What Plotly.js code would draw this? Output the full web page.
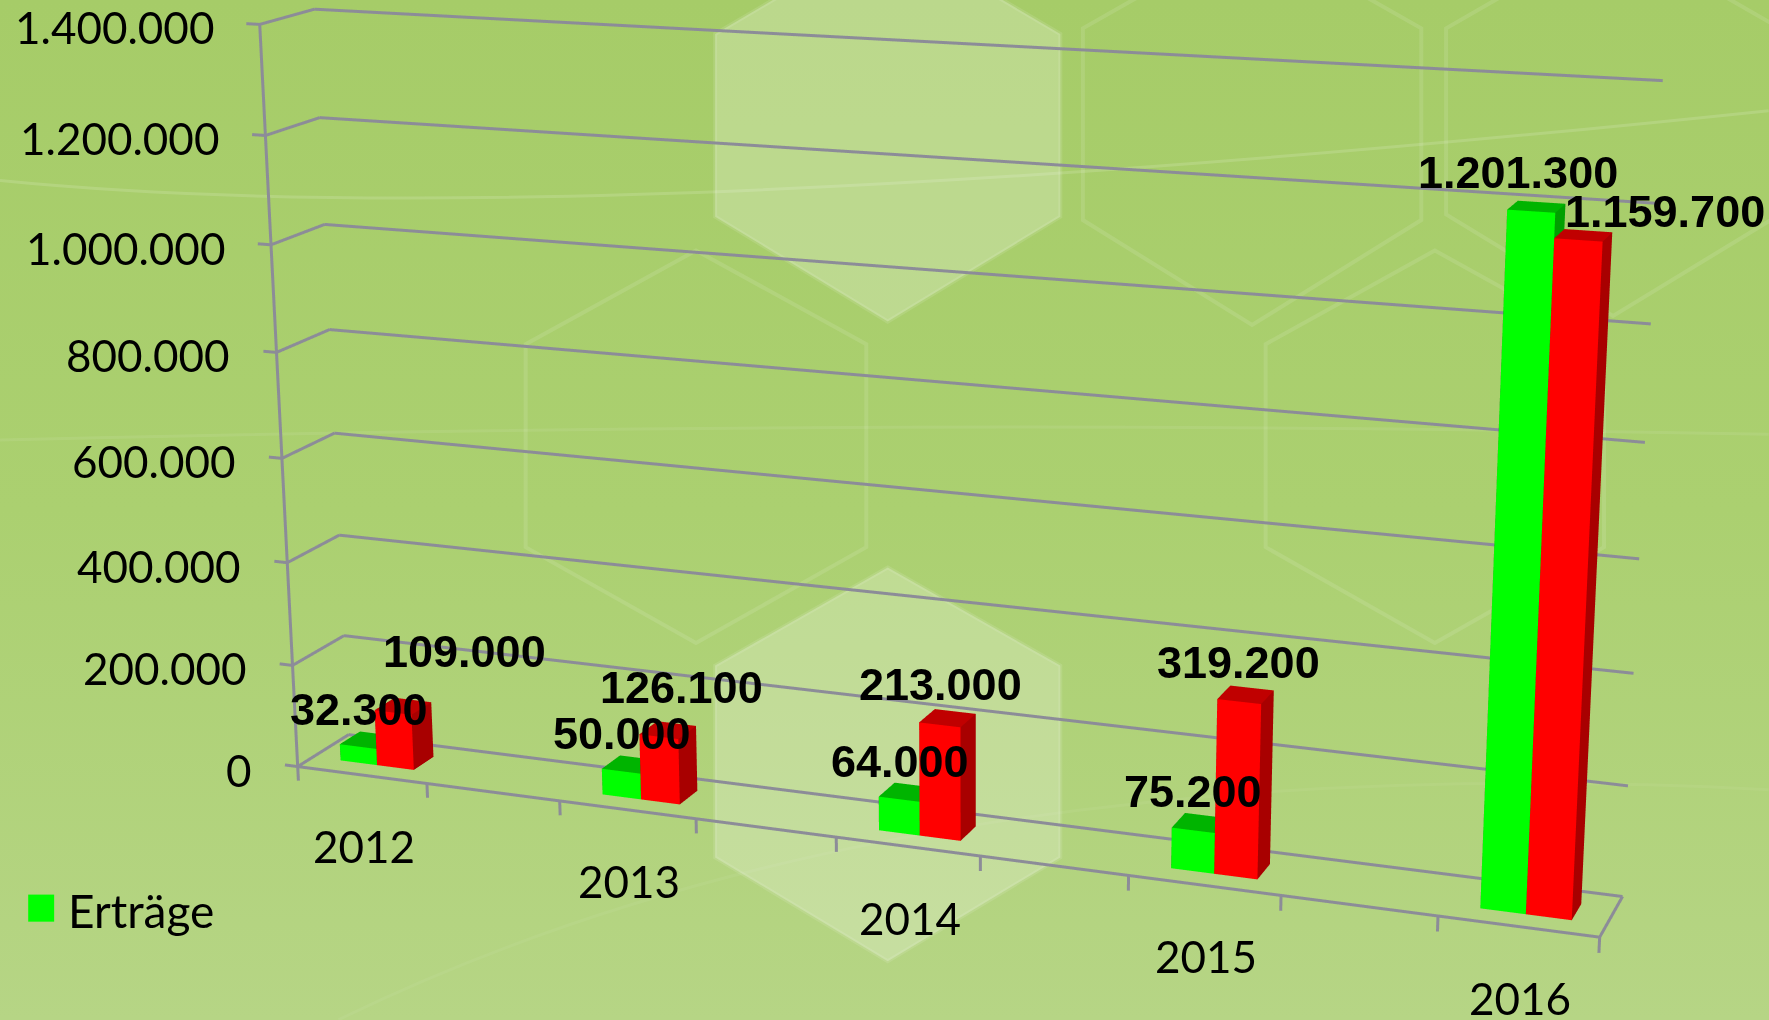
<!DOCTYPE html>
<html><head><meta charset="utf-8">
<script src="https://cdn.plot.ly/plotly-3.0.1.min.js"></script>
<style>html,body{margin:0;width:1769px;height:1020px;overflow:hidden;background:linear-gradient(180deg,#a6cc68 0%,#abd070 50%,#b6d585 100%)}#g{position:absolute;left:0;top:-1067.1px}</style>
</head><body><div id="g"></div>
<script>
const categories=['2012','2013','2014','2015','2016'];
const ertraege=[32300,50000,64000,75200,1201300];
const aufwand=[109000,126100,213000,319200,1159700];
const zTicks=[0,200000,400000,600000,800000,1000000,1200000,1400000];
const H=3211,top0=-1067.1;
const xr=[-0.18,9.09],yr=[-0.05,1.05],zr=[-50000,1420000];
const fmt=v=>String(v).replace(/\B(?=(\d{3})+$)/g,'.');
function bars(vals,x0,x1,name,colors){const X=[],Y=[],Z=[],I=[],J=[],K=[],FC=[];const y0=.3,y1=.7;
 vals.forEach((v,n)=>{const b=X.length,a=2*n+x0,c=2*n+x1;[[a,y0,0],[c,y0,0],[c,y1,0],[a,y1,0],[a,y0,v],[c,y0,v],[c,y1,v],[a,y1,v]].forEach(q=>{X.push(q[0]);Y.push(q[1]);Z.push(q[2])});
 [[0,1,5,0],[0,5,4,0],[4,5,6,1],[4,6,7,1],[1,2,6,2],[1,6,5,2],[3,7,6,2],[3,6,2,2],[0,4,7,2],[0,7,3,2]].forEach(f=>{I.push(b+f[0]);J.push(b+f[1]);K.push(b+f[2]);FC.push(colors[f[3]])})});
 return {type:'mesh3d',x:X,y:Y,z:Z,i:I,j:J,k:K,facecolor:FC,flatshading:true,lighting:{ambient:1,diffuse:0,specular:0,roughness:1,fresnel:0},showlegend:false,showscale:false,name:name,hoverinfo:'skip'};}
const gx=[],gy=[],gz=[];const seg=(a,b)=>{gx.push(a[0],b[0],null);gy.push(a[1],b[1],null);gz.push(a[2],b[2],null)};
zTicks.forEach(v=>{seg([-.1,0,v],[0,0,v]);seg([0,0,v],[0,1,v]);seg([0,1,v],[9,1,v])});
seg([0,0,0],[0,0,1400000]);seg([0,0,0],[9,0,0]);seg([9,0,0],[9,1,0]);
for(let i=0;i<=9;i++)seg([i,0,0],[i,0,-28000]);
const grid={type:'scatter3d',mode:'lines',x:gx,y:gy,z:gz,line:{color:'#8c8c98',width:6},showlegend:false,hoverinfo:'skip'};
const legendTrace={type:'scatter3d',mode:'markers',x:[.35],y:[.5],z:[1000],name:'Erträge',marker:{color:'#00ff00',size:4,symbol:'square'},showlegend:true,hoverinfo:'skip'};
const tickFont={family:'Lato',size:44,color:'#000'},valFont={family:'Liberation Sans',size:45,color:'#000'};
const ann=[];
zTicks.forEach(v=>ann.push({x:0,y:0,z:v,text:fmt(v),showarrow:false,xanchor:'right',yanchor:'middle',xshift:-44,yshift:-3,font:tickFont}));
categories.forEach((c,n)=>ann.push({x:2*n+.5,y:0,z:0,text:c,showarrow:false,xanchor:'center',yanchor:'middle',xshift:2,yshift:-71,font:tickFont}));
const offG=[[-8,31],[-7,31],[-6,31],[-6,31],[-17,34]],offR=[[61,55],[13,43],[-8,34],[-8,32],[80,24]];
ertraege.forEach((v,n)=>ann.push({x:2*n+.35,y:.5,z:v,text:'<b>'+fmt(v)+'</b>',showarrow:false,yanchor:'middle',xshift:offG[n][0],yshift:offG[n][1],font:valFont}));
aufwand.forEach((v,n)=>ann.push({x:2*n+.65,y:.5,z:v,text:'<b>'+fmt(v)+'</b>',showarrow:false,yanchor:'middle',xshift:offR[n][0],yshift:offR[n][1],font:valFont}));
const S=1.128;const P=(x,y)=>(x*S/1769).toFixed(5)+','+(1-(y*S-top0)/H).toFixed(5);
const poly=(pts,fill,lw)=>({type:'path',xref:'paper',yref:'paper',layer:'below',path:'M'+pts.map(q=>P(q[0],q[1])).join('L')+'Z',fillcolor:fill,line:{color:'rgba(255,255,255,.11)',width:lw}});
const hex=(cx,t,hw,a,b,bot,fill)=>poly([[cx,t],[cx+hw,a],[cx+hw,b],[cx,bot],[cx-hw,b],[cx-hw,a]],fill,4);
const shapes=[hex(787,-60,153,30,192,285,'rgba(255,255,255,.24)'),hex(787,503,153,590,760,852,'rgba(255,255,255,.24)'),hex(1110,-60,150,25,195,288,'rgba(255,255,255,0)'),hex(1430,-60,148,25,190,280,'rgba(255,255,255,0)'),hex(617,222,151,305,485,570,'rgba(255,255,255,0)'),hex(1272,222,150,305,485,570,'rgba(255,255,255,0)')];
const curve=(a,b,c,o)=>({type:'path',xref:'paper',yref:'paper',layer:'below',path:'M'+P(...a)+'Q'+P(...b)+' '+P(...c),line:{color:'rgba(255,255,255,'+o+')',width:3}});
shapes.push(curve([0,160],[500,210],[1568,98],.14),curve([0,390],[800,370],[1568,385],.08),curve([300,904],[800,660],[1568,700],.05));
shapes.push(poly([[25,793],[48,793],[48,817],[25,817]],'#00ff00',0));
const layout={width:1769,height:H,margin:{l:0,r:0,t:0,b:0},paper_bgcolor:'rgba(0,0,0,0)',showlegend:true,
 legend:{x:12/1769,xanchor:'left',y:1-(910-top0)/H,yanchor:'middle',itemwidth:46,font:{family:'Lato',size:46,color:'#000'},bgcolor:'rgba(0,0,0,0)'},shapes,
 scene:{domain:{x:[0,1],y:[0,1]},bgcolor:'rgba(0,0,0,0)',aspectmode:'manual',aspectratio:{x:1,y:.08561,z:.58039},dragmode:'orbit',
 camera:{eye:{x:1.83861/2,y:-4.82763/2,z:1.37085/2},center:{x:-.00474/2,y:-.12223/2,z:-.08216/2},up:{x:.00346,y:.009,z:1},projection:{type:'perspective'}},
 xaxis:{visible:false,range:xr,autorange:false},yaxis:{visible:false,range:yr,autorange:false},zaxis:{visible:false,range:zr,autorange:false},annotations:ann}};
Plotly.newPlot('g',[grid,bars(ertraege,.215,.5,'Erträge',['#00ff00','#00b400','#00a000']),bars(aufwand,.5,.785,'Aufwand',['#ff0000','#c00000','#a80000']),legendTrace],layout,{displayModeBar:false,plotGlPixelRatio:2});
</script></body></html>
